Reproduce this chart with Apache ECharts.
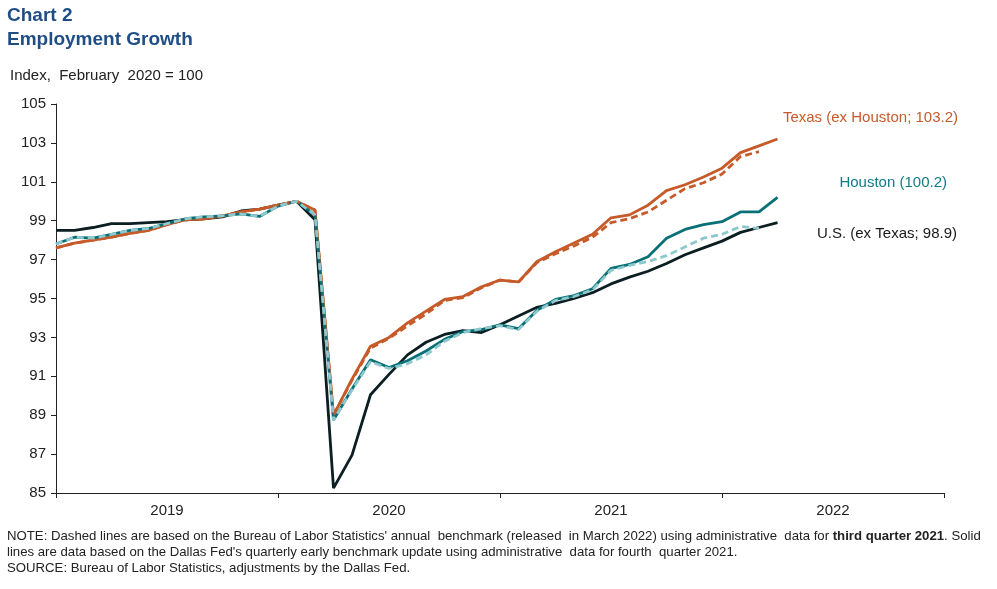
<!DOCTYPE html>
<html>
<head>
<meta charset="utf-8">
<script src="https://cdn.jsdelivr.net/npm/echarts@6/dist/echarts.min.js"></script>
<style>
html,body{margin:0;padding:0;background:#fff;}
#chart{width:997px;height:589px;}
</style>
</head>
<body>
<div id="chart"></div>
<script>
// Months Jan 2019 .. Jan 2023 (49 category slots)
const months = [];
for (let y = 2019; y <= 2023; y++) {
  for (let m = 1; m <= 12; m++) {
    if (y === 2023 && m > 1) break;
    months.push(y + '-' + String(m).padStart(2, '0'));
  }
}
const yearLabels = ['2019', '2020', '2021', '2022'];
const yTicks = [85, 87, 89, 91, 93, 95, 97, 99, 101, 103, 105];

const texasSolid = [97.6, 97.85, 98.0, 98.15, 98.35, 98.5, 98.8, 99.05, 99.1, 99.25, 99.45, 99.6,
  99.8, 100, 99.55, 89.0, 90.85, 92.55, 93.0, 93.75, 94.35, 94.95, 95.1, 95.6,
  95.95, 95.85, 96.9, 97.4, 97.85, 98.3, 99.15, 99.3, 99.8, 100.55, 100.85, 101.25,
  101.7, 102.5, 102.85, 103.2];
const texasDashed = [97.6, 97.85, 98.0, 98.15, 98.35, 98.5, 98.8, 99.05, 99.1, 99.25, 99.45, 99.6,
  99.8, 100, 99.55, 89.0, 90.8, 92.45, 92.95, 93.6, 94.2, 94.9, 95.05, 95.55,
  95.95, 95.85, 96.85, 97.3, 97.7, 98.15, 98.9, 99.1, 99.45, 100.05, 100.65, 100.95,
  101.4, 102.3, 102.55];
const houstonSolid = [97.8, 98.15, 98.1, 98.3, 98.5, 98.6, 98.85, 99.1, 99.2, 99.25, 99.35, 99.22,
  99.75, 100, 99.3, 88.75, 90.35, 91.85, 91.45, 91.8, 92.3, 92.9, 93.3, 93.4,
  93.65, 93.45, 94.4, 94.95, 95.15, 95.5, 96.55, 96.75, 97.15, 98.1, 98.55, 98.8,
  98.95, 99.45, 99.45, 100.2];
const houstonDashed = [97.8, 98.15, 98.1, 98.3, 98.5, 98.6, 98.85, 99.1, 99.2, 99.25, 99.35, 99.22,
  99.75, 100, 99.3, 88.75, 90.3, 91.75, 91.4, 91.65, 92.1, 92.8, 93.25, 93.45,
  93.6, 93.4, 94.35, 94.9, 95.1, 95.45, 96.45, 96.7, 96.9, 97.2, 97.65, 98.1,
  98.3, 98.7, 98.6];
const usSolid = [98.5, 98.5, 98.65, 98.85, 98.85, 98.9, 98.95, 99.05, 99.1, 99.2, 99.5, 99.6,
  99.8, 100, 99.05, 85.25, 86.95, 90.05, 91.1, 92.1, 92.75, 93.15, 93.35, 93.25,
  93.65, 94.1, 94.55, 94.75, 95.0, 95.3, 95.75, 96.1, 96.4, 96.8, 97.25, 97.6,
  97.95, 98.4, 98.65, 98.9];

const C_TX = '#C65A28', C_HOU = '#0A7077', C_HOU_D = '#8CC8CC', C_US = '#0B1E21';
const FONT = 'Liberation Sans, Arial, sans-serif';
const NOTE_FONT = '13.2px ' + FONT;

const chart = echarts.init(document.getElementById('chart'));
chart.setOption({
  animation: false,
  backgroundColor: '#fff',
  grid: { left: 56, right: 53, top: 104, bottom: 96, containLabel: false },
  xAxis: {
    type: 'category',
    data: months,
    boundaryGap: false,
    axisLine: { lineStyle: { color: '#222', width: 1 } },
    axisTick: { show: true, length: 5, interval: (i) => i % 12 === 0, lineStyle: { color: '#222' } },
    axisLabel: {
      interval: (i) => i % 12 === 6,
      formatter: (v) => v.slice(0, 4),
      color: '#222', fontSize: 15, fontFamily: FONT, margin: 10
    },
    splitLine: { show: false }
  },
  yAxis: {
    type: 'value',
    min: 85, max: 105, interval: 2,
    axisLine: { show: true, lineStyle: { color: '#222', width: 1 } },
    axisTick: { show: true, length: 5, lineStyle: { color: '#222' } },
    axisLabel: { color: '#222', fontSize: 15, fontFamily: FONT, margin: 10,
      formatter: (v) => yTicks.indexOf(v) >= 0 ? String(v) : '' },
    splitLine: { show: false }
  },
  series: [
    { name: 'U.S.', type: 'line', data: usSolid, symbol: 'none', lineStyle: { color: C_US, width: 2.8 }, z: 2 },
    { name: 'Texas', type: 'line', data: texasSolid, symbol: 'none', lineStyle: { color: C_TX, width: 2.8 }, z: 3 },
    { name: 'Houston', type: 'line', data: houstonSolid, symbol: 'none', lineStyle: { color: C_HOU, width: 2.8 }, z: 3 },
    { name: 'Texas dashed', type: 'line', data: texasDashed, symbol: 'none', lineStyle: { color: C_TX, width: 2.8, type: [7, 4] }, z: 4 },
    { name: 'Houston dashed', type: 'line', data: houstonDashed, symbol: 'none', lineStyle: { color: C_HOU_D, width: 2.8, type: [7, 4] }, z: 4 }
  ],
  graphic: [
    { type: 'text', left: 7, top: 6, style: { text: 'Chart 2', fill: '#1F4E85', font: 'bold 19px ' + FONT } },
    { type: 'text', left: 7, top: 30, style: { text: 'Employment Growth', fill: '#1F4E85', font: 'bold 19px ' + FONT } },
    { type: 'text', left: 10, top: 68, style: { text: 'Index,  February  2020 = 100', fill: '#222', font: '15px ' + FONT } },
    { type: 'text', right: 39, top: 110, style: { text: 'Texas (ex Houston; 103.2)', fill: C_TX, font: '15px ' + FONT } },
    { type: 'text', right: 50, top: 175, style: { text: 'Houston (100.2)', fill: '#0E7C86', font: '15px ' + FONT } },
    { type: 'text', right: 40, top: 226, style: { text: 'U.S. (ex Texas; 98.9)', fill: '#1a1a1a', font: '15px ' + FONT } },
    { type: 'text', left: 7, top: 530, style: {
      text: '{a|NOTE: Dashed lines are based on the Bureau of Labor Statistics\' annual  benchmark (released  in March 2022) using administrative  data for }{b|third quarter 2021}{a|. Solid}',
      rich: { a: { fill: '#222', font: NOTE_FONT }, b: { fill: '#222', font: 'bold ' + NOTE_FONT } } } },
    { type: 'text', left: 7, top: 546, style: { text: 'lines are data based on the Dallas Fed\'s quarterly early benchmark update using administrative  data for fourth  quarter 2021.', fill: '#222', font: NOTE_FONT } },
    { type: 'text', left: 7, top: 562, style: { text: 'SOURCE: Bureau of Labor Statistics, adjustments by the Dallas Fed.', fill: '#222', font: NOTE_FONT } }
  ]
});
</script>
</body>
</html>
